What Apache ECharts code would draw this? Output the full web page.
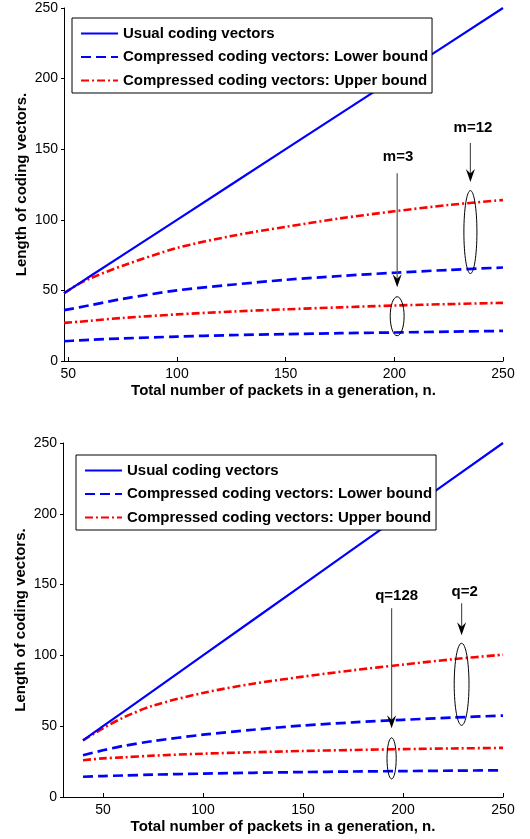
<!DOCTYPE html>
<html><head><meta charset="utf-8">
<script src="https://cdn.jsdelivr.net/npm/echarts@6/dist/echarts.min.js"></script>
<style>
body{margin:0;background:#fff}
#c1{position:absolute;left:0;top:0;width:530px;height:420px}
#c2{position:absolute;left:0;top:420px;width:530px;height:419px}
</style></head>
<body>
<div id="c1"></div><div id="c2"></div>
<script>
// ---------- data ----------
const seriesNames = ['Usual coding vectors', 'Compressed coding vectors: Lower bound', 'Compressed coding vectors: Upper bound'];
const xTickLabels = [50, 100, 150, 200, 250];
const yTickLabels = [0, 50, 100, 150, 200, 250];

// top panel (m = 3, m = 12)
const nTop        = [48, 55, 60, 75, 100, 125, 150, 175, 200, 225, 250];
const usualTop    = [48, 55, 60, 75, 100, 125, 150, 175, 200, 225, 250];
const upperM12    = [48, 54.8, 58.5, 67.5, 80, 88.5, 95, 101, 106, 110.5, 114];
const lowerM12    = [36, 38, 39.5, 44, 50, 54, 57.5, 60.2, 62.5, 64.5, 66.2];
const upperM3     = [27, 27.8, 28.5, 30.5, 33, 35, 36.6, 38, 39.3, 40.3, 41.2];
const lowerM3     = [14, 14.6, 15, 16, 17.3, 18.3, 19, 19.7, 20.2, 20.8, 21.3];

// bottom panel (q = 128, q = 2)
const nBot        = [40, 50, 60, 75, 100, 125, 150, 175, 200, 225, 250];
const usualBot    = [40, 50, 60, 75, 100, 125, 150, 175, 200, 225, 250];
const upperQ2     = [40, 48.5, 56, 64.5, 73.5, 80, 85, 89.5, 93.5, 97.3, 100.5];
const lowerQ2     = [29.5, 33, 36, 39.5, 44, 47.5, 50.5, 52.7, 54.5, 56.1, 57.5];
const upperQ128   = [26, 27.3, 28, 29.2, 30.6, 31.6, 32.5, 33.2, 33.8, 34.3, 34.7];
const lowerQ128   = [14.3, 14.8, 15.2, 15.8, 16.5, 17.1, 17.6, 18, 18.3, 18.6, 18.9];

// annotations (data coordinates): label, text position, arrow x, arrow from/to y, ellipse centre y and half-sizes
const annTop = [
  {label:'m=3',  tx:201.7, ty:144.5, ax:201.3, ay1:133, ay2:52.3, ey:31.7, ery:13.8, erx:3.2},
  {label:'m=12', tx:236.2, ty:165,   ax:235.0, ay1:154.4, ay2:126.7, ey:91.3, ery:29.4, erx:3.0}
];
const annBot = [
  {label:'q=128', tx:196.8, ty:141.7, ax:194.3, ay1:133.3, ay2:48.5, ey:27.3, ery:14.5, erx:2.3},
  {label:'q=2',   tx:230.8, ty:144.6, ax:229.3, ay1:136.8, ay2:114.2, ey:79.6, ery:29,  erx:3.7}
];

// ---------- styling ----------
const FONT = 'Liberation Sans, Arial, Helvetica, sans-serif';
const BLUE = '#0000ff', RED = '#ff0000';
function pairs(xs, ys){ return xs.map((x,i)=>[x, ys[i]]); }
function solid(name, xs, ys){ return {name, type:'line', data:pairs(xs,ys), symbol:'none', showSymbol:false, animation:false, lineStyle:{color:BLUE,width:2.2,type:'solid'}, itemStyle:{color:BLUE}, z:3}; }
function dashed(name, xs, ys){ return {name, type:'line', data:pairs(xs,ys), symbol:'none', showSymbol:false, animation:false, smooth:0.3, lineStyle:{color:BLUE,width:2.7,type:[10,5]}, itemStyle:{color:BLUE}, z:2}; }
function dashdot(name, xs, ys){ return {name, type:'line', data:pairs(xs,ys), symbol:'none', showSymbol:false, animation:false, smooth:0.3, lineStyle:{color:RED,width:2.6,type:[8,3,2,3]}, itemStyle:{color:RED}, z:2}; }

function makeOption(cfg){
  return {
    animation:false,
    backgroundColor:'#fff',
    textStyle:{fontFamily:FONT},
    grid:{left:cfg.left, right:cfg.right, top:cfg.top, bottom:cfg.bottom, containLabel:false},
    legend:{
      data:seriesNames, orient:'vertical', left:cfg.legLeft, top:cfg.legTop,
      itemWidth:37, itemHeight:12, itemGap:8.5,
      padding:[8,4,5,8], borderColor:'#000', borderWidth:1, backgroundColor:'#fff',
      itemStyle:{color:'transparent', borderColor:'transparent', borderWidth:0, opacity:0},
      textStyle:{fontFamily:FONT, fontSize:15, fontWeight:'bold', color:'#000', lineHeight:15},
      selectedMode:false
    },
    xAxis:{
      type:'value', min:cfg.xmin, max:250,
      name:'Total number of packets in a generation, n.', nameLocation:'middle', nameGap:22,
      nameMoveOverlap:false,
      nameTextStyle:{fontFamily:FONT, fontSize:15, fontWeight:'bold', color:'#000'},
      axisLine:{lineStyle:{color:'#000', width:1}},
      axisTick:{inside:true, length:4, customValues:xTickLabels, lineStyle:{color:'#000'}},
      axisLabel:{customValues:xTickLabels, fontFamily:FONT, fontSize:14, color:'#000', margin:6},
      splitLine:{show:false}
    },
    yAxis:{
      type:'value', min:0, max:250, interval:50,
      name:'Length of coding vectors.', nameLocation:'middle', nameGap:35,
      nameMoveOverlap:false,
      nameTextStyle:{fontFamily:FONT, fontSize:15, fontWeight:'bold', color:'#000'},
      axisLine:{show:true, lineStyle:{color:'#000', width:1}},
      axisTick:{show:true, inside:false, length:3, lineStyle:{color:'#000'}},
      axisLabel:{fontFamily:FONT, fontSize:14, color:'#000', margin:6},
      splitLine:{show:false}
    },
    series:cfg.series
  };
}

function annotations(chart, anns){
  const g = [];
  anns.forEach(a=>{
    const t  = chart.convertToPixel({xAxisIndex:0,yAxisIndex:0},[a.tx,a.ty]);
    const p1 = chart.convertToPixel({xAxisIndex:0,yAxisIndex:0},[a.ax,a.ay1]);
    const p2 = chart.convertToPixel({xAxisIndex:0,yAxisIndex:0},[a.ax,a.ay2]);
    const ec = chart.convertToPixel({xAxisIndex:0,yAxisIndex:0},[a.ax,a.ey]);
    const er = chart.convertToPixel({xAxisIndex:0,yAxisIndex:0},[a.ax+a.erx,a.ey+a.ery]);
    g.push({type:'text', x:t[0], y:t[1], style:{text:a.label, fontFamily:FONT, fontSize:15, fontWeight:'bold', fill:'#000', align:'center', verticalAlign:'middle'}, z:20});
    g.push({type:'line', shape:{x1:p1[0], y1:p1[1], x2:p2[0], y2:p2[1]-8}, style:{stroke:'#555', lineWidth:1.2}, z:20});
    g.push({type:'polygon', shape:{points:[[p2[0],p2[1]],[p2[0]-4.5,p2[1]-13],[p2[0],p2[1]-8.5],[p2[0]+4.5,p2[1]-13]]}, style:{fill:'#000'}, z:21});
    g.push({type:'ellipse', shape:{cx:ec[0], cy:ec[1], rx:Math.abs(er[0]-ec[0]), ry:Math.abs(ec[1]-er[1])}, style:{fill:null, stroke:'#000', lineWidth:1}, z:20});
  });
  chart.setOption({graphic:g});
}

const c1 = echarts.init(document.getElementById('c1'), null, {renderer:'canvas'});
c1.setOption(makeOption({
  left:64, right:27, top:8, bottom:59, xmin:48, legLeft:72, legTop:18,
  series:[
    solid(seriesNames[0], nTop, usualTop),
    dashed(seriesNames[1], nTop, lowerM12),
    dashdot(seriesNames[2], nTop, upperM12),
    dashed(seriesNames[1], nTop, lowerM3),
    dashdot(seriesNames[2], nTop, upperM3)
  ]
}));
annotations(c1, annTop);

const c2 = echarts.init(document.getElementById('c2'), null, {renderer:'canvas'});
c2.setOption(makeOption({
  left:63, right:27, top:23, bottom:42, xmin:30, legLeft:76, legTop:35,
  series:[
    solid(seriesNames[0], nBot, usualBot),
    dashed(seriesNames[1], nBot, lowerQ2),
    dashdot(seriesNames[2], nBot, upperQ2),
    dashed(seriesNames[1], nBot, lowerQ128),
    dashdot(seriesNames[2], nBot, upperQ128)
  ]
}));
annotations(c2, annBot);
</script>
</body></html>
